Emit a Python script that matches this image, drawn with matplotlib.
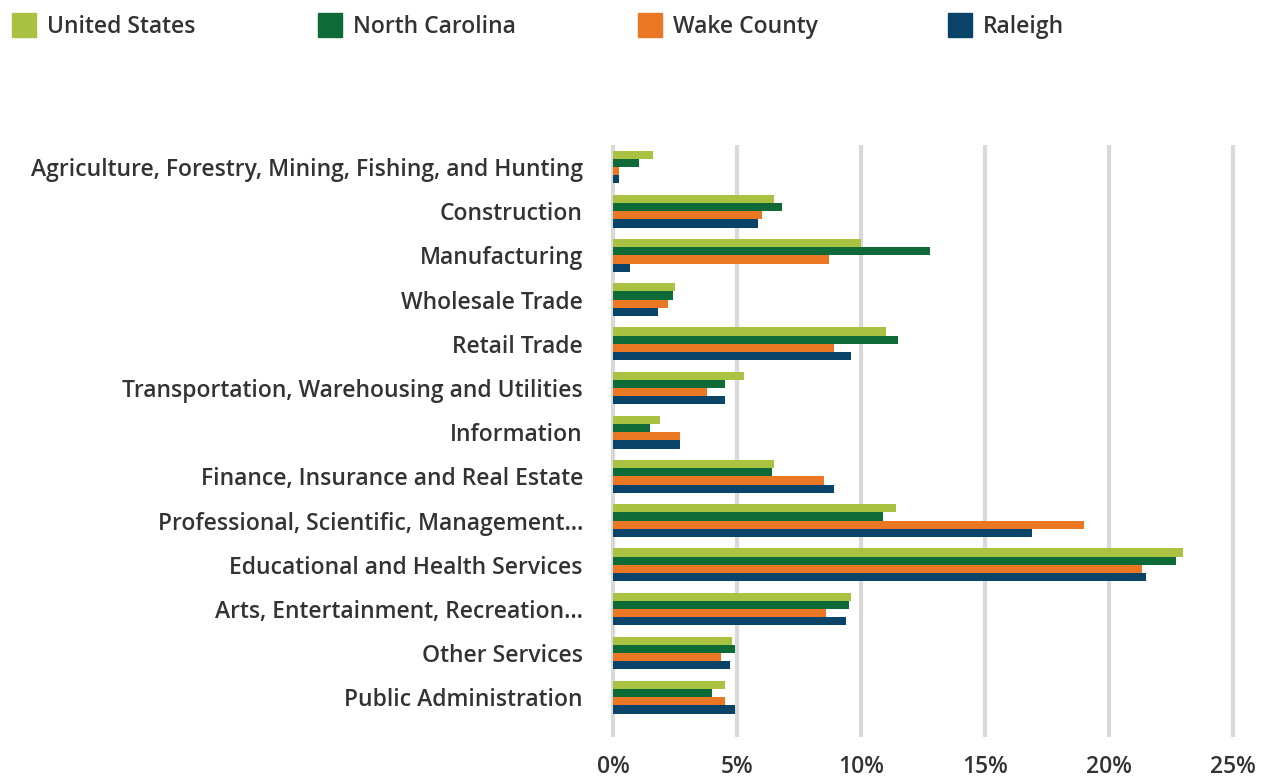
import matplotlib as mpl
mpl.use("Agg")
import matplotlib.pyplot as plt
from matplotlib.patches import Rectangle
import numpy as np

plt.rcParams['font.family'] = ['Open Sans', 'DejaVu Sans']
plt.rcParams['font.weight'] = 'semibold'

industries = [
    "Agriculture, Forestry, Mining, Fishing, and Hunting",
    "Construction",
    "Manufacturing",
    "Wholesale Trade",
    "Retail Trade",
    "Transportation, Warehousing and Utilities",
    "Information",
    "Finance, Insurance and Real Estate",
    "Professional, Scientific, Management…",
    "Educational and Health Services",
    "Arts, Entertainment, Recreation…",
    "Other Services",
    "Public Administration",
]
united_states = [1.6, 6.5, 10.0, 2.5, 11.0, 5.3, 1.9, 6.5, 11.4, 23.0, 9.6, 4.8, 4.5]
north_carolina = [1.05, 6.8, 12.8, 2.4, 11.5, 4.5, 1.5, 6.4, 10.9, 22.7, 9.5, 4.9, 4.0]
wake_county = [0.25, 6.0, 8.7, 2.2, 8.9, 3.8, 2.7, 8.5, 19.0, 21.35, 8.6, 4.35, 4.5]
raleigh = [0.25, 5.85, 0.7, 1.8, 9.6, 4.5, 2.7, 8.9, 16.9, 21.5, 9.4, 4.7, 4.9]

series = [
    ("United States", united_states, "#A9C242"),
    ("North Carolina", north_carolina, "#0E6B38"),
    ("Wake County", wake_county, "#E97724"),
    ("Raleigh", raleigh, "#0A4368"),
]

W, H = 1268, 778
fig = plt.figure(figsize=(W / 100, H / 100), dpi=100)

# axes box in pixels: x 0% at 613, 1% = 24.8px
x0, ppu = 613, 24.8
xmin, xmax = -0.15, 25.15
left = x0 + xmin * ppu
width = (xmax - xmin) * ppu
top_px, bot_px = 145, 737
ax = fig.add_axes([left / W, 1 - bot_px / H, width / W, (bot_px - top_px) / H])

y = np.arange(len(industries))
bh = 0.185
for i, (name, vals, col) in enumerate(series):
    ax.barh(y + (i - 1.5) * bh, vals, height=bh, color=col, zorder=3)

ax.set_xlim(xmin, xmax)
ax.set_ylim(12.9, -0.5)
ax.set_xticks(np.arange(0, 26, 5))
ax.set_xticklabels([f"{t}%" for t in range(0, 26, 5)])
ax.set_yticks(y)
ax.set_yticklabels(industries)
ax.tick_params(axis='both', length=0, labelsize=16.5, labelcolor="#333333")
ax.tick_params(axis='y', pad=19)
ax.tick_params(axis='x', pad=13)
ax.xaxis.grid(True, color="#D9D9D9", linewidth=3, zorder=0)
for s in ax.spines.values():
    s.set_visible(False)

# legend row across the top
legend_x = [12, 318, 638, 948]
for (name, vals, col), lx in zip(series, legend_x):
    fig.patches.append(Rectangle((lx / W, 1 - 37 / H), 24 / W, 24 / H,
                                 transform=fig.transFigure, color=col))
    fig.text((lx + 35) / W, 1 - 33 / H, name, fontsize=16.5, color="#333333",
             va="baseline", ha="left")

fig.savefig("out.png", dpi=100)
